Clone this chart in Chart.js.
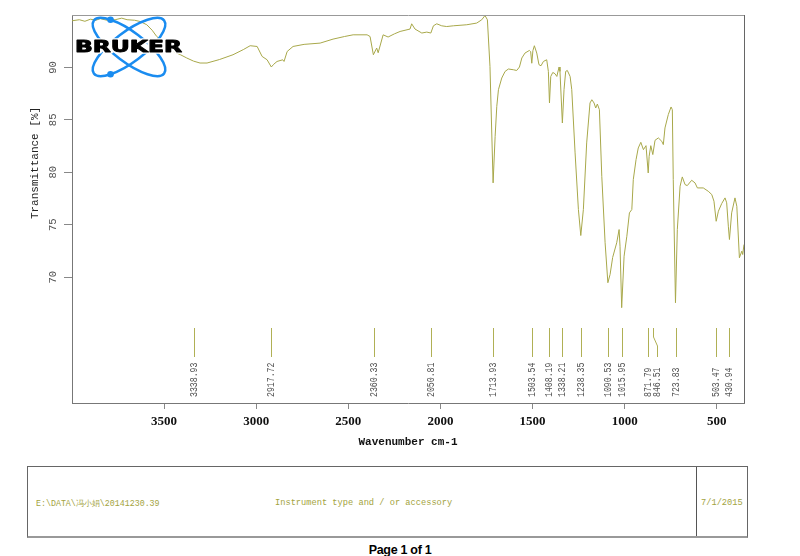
<!DOCTYPE html>
<html>
<head>
<meta charset="utf-8">
<script src="https://cdn.jsdelivr.net/npm/chart.js"></script>
<style>
    body { margin: 0; background: #fff; }
    #page { position: relative; width: 800px; height: 556px; overflow: hidden; }
    #spectrum { position: absolute; left: 0; top: 0; }
    #info_box {
        position: absolute; left: 27px; top: 466px; width: 719px; height: 69px;
        border: 1px solid #666; border-bottom: 2px solid #999;
    }
    #info_box .divider { position: absolute; left: 668px; top: 0; bottom: 0; border-left: 1px solid #555; }
    #info_box span {
        position: absolute; top: 32px; font-family: "Liberation Mono", monospace;
        font-size: 8.7px; line-height: 9px; color: #a3a340; white-space: nowrap;
    }
    #page_no {
        position: absolute; left: 0; width: 800px; top: 543px; text-align: center;
        font-family: "Liberation Sans", Arial, sans-serif; font-weight: bold; font-size: 12.5px;
        letter-spacing: -0.3px; color: #000;
    }
</style>
</head>
<body>
<div id="page">
    <canvas id="spectrum" width="800" height="460"></canvas>
    <div id="info_box">
        <span style="left:8px; font-size:8.3px">E:\DATA\冯小娟\20141230.39</span>
        <span style="left:247px">Instrument type and / or accessory</span>
        <div class="divider"></div>
        <span style="left:673px">7/1/2015</span>
    </div>
    <div id="page_no">Page 1 of 1</div>
</div>
<script>
    // spectrum (cm-1 / %T)
    const wavenumbers = [
        4000, 3960, 3930, 3900, 3870, 3847, 3810, 3766, 3730, 3701, 3660, 3630, 3594, 3565, 3540,
        3485, 3450, 3410, 3377, 3340, 3305, 3267, 3200, 3126, 3070, 3033, 2995, 2968, 2941, 2918,
        2905, 2887, 2856, 2849, 2832, 2800, 2740, 2653, 2583, 2520, 2474, 2398, 2382, 2364, 2346,
        2338, 2311, 2284, 2250, 2219, 2165, 2156, 2138, 2101, 2074, 2052, 2038, 2020, 1993, 1966,
        1930, 1857, 1803, 1776, 1758, 1745, 1731, 1714, 1703, 1694, 1685, 1667, 1649, 1631, 1604,
        1586, 1571, 1558, 1541, 1517, 1510, 1504, 1498, 1490, 1477, 1465, 1454, 1441, 1423, 1414,
        1408, 1401, 1390, 1378, 1368, 1356, 1351, 1338, 1329, 1320, 1311, 1296, 1287, 1269, 1251,
        1238, 1224, 1206, 1188, 1178, 1166, 1157, 1148, 1137, 1124, 1106, 1091, 1079, 1065, 1043,
        1030, 1025, 1016, 1003, 988, 974, 961, 953, 938, 926, 912, 898, 884, 872, 867,
        858, 847, 835, 817, 798, 790, 781, 763, 748, 741, 736, 724, 714, 699, 687,
        672, 660, 636, 618, 605, 573, 546, 527, 515, 503, 491, 473, 455, 446, 437,
        431, 419, 401, 391, 377, 364, 359, 352
    ];
    const transmittance = [
        94.45, 94.55, 94.4, 94.6, 94.5, 94.65, 94.5, 94.55, 94.7, 94.55, 94.5, 94.38, 94.07, 93.55, 92.95,
        92.16, 91.52, 91.2, 90.9, 90.6, 90.42, 90.42, 90.75, 91.21, 91.7, 92.07, 92.0, 91.05, 90.73, 90.04,
        90.3, 90.57, 90.73, 90.57, 91.52, 92.0, 92.2, 92.32, 92.7, 92.95, 93.11, 93.11, 92.95, 91.21, 91.85,
        91.4, 93.11, 92.9, 93.2, 93.43, 93.66, 94.16, 93.66, 93.28, 93.37, 93.28, 93.97, 94.16, 93.97, 93.9,
        93.97, 94.07, 94.23, 94.54, 94.95, 94.54, 90.1, 78.99, 83.43, 86.29, 87.88, 88.99, 89.62, 89.85, 89.78,
        89.71, 90.04, 90.9, 91.37, 91.62, 91.5, 90.4, 91.6, 92.07, 91.37, 90.26, 90.16, 90.57, 90.73, 89.62,
        86.61, 89.14, 89.52, 89.4, 89.14, 90.04, 89.62, 84.7, 87.88, 89.62, 89.71, 89.14, 87.88, 81.85, 76.45,
        73.97, 76.45, 82.8, 86.61, 86.92, 86.61, 86.13, 86.51, 85.97, 79.62, 73.28, 69.47, 70.26, 71.88, 73.28,
        74.54, 72.95, 67.09, 72.0, 73.9, 76.13, 76.45, 79.3, 81.21, 82.32, 82.86, 82.16, 82.54, 79.94, 81.52,
        82.54, 81.69, 83.05, 83.28, 82.95, 82.64, 84.23, 85.5, 86.23, 85.97, 79.3, 67.56, 74.54, 78.67, 79.56,
        78.83, 78.73, 79.24, 78.99, 78.51, 78.51, 78.19, 77.88, 77.24, 75.33, 76.29, 77.02, 77.56, 77.09, 74.86,
        73.59, 76.13, 77.56, 76.76, 71.85, 72.48, 72.16, 73.11
    ];
    const peaks = [3338.93, 2917.72, 2360.33, 2050.81, 1713.93, 1503.54, 1408.19, 1338.21,
                   1238.35, 1090.53, 1015.95, 871.79, 846.51, 723.83, 503.47, 430.94];
    const xTicks = [3500, 3000, 2500, 2000, 1500, 1000, 500];
    const yTicks = [70, 75, 80, 85, 90];

    const decorations = {
        id: 'decorations',
        afterDraw(chart) {
            const { ctx, chartArea: a, scales: { x, y } } = chart;
            ctx.save();

            // top and right frame
            ctx.lineWidth = 1;
            ctx.strokeStyle = '#999';
            ctx.beginPath(); ctx.moveTo(a.left, a.top + 0.5); ctx.lineTo(a.right + 1, a.top + 0.5); ctx.stroke();
            ctx.strokeStyle = '#666';
            ctx.beginPath(); ctx.moveTo(a.right + 0.5, a.top); ctx.lineTo(a.right + 0.5, a.bottom); ctx.stroke();

            // y tick labels, rotated
            ctx.fillStyle = '#555';
            ctx.font = '10.5px "Liberation Mono"';
            ctx.textAlign = 'center';
            ctx.textBaseline = 'middle';
            y.ticks.forEach(t => {
                ctx.save();
                ctx.translate(53, y.getPixelForValue(t.value));
                ctx.rotate(-Math.PI / 2);
                ctx.fillText(String(t.value), 0, 0);
                ctx.restore();
            });

            // y title
            ctx.save();
            ctx.fillStyle = '#222';
            ctx.font = '11px "Liberation Mono"';
            ctx.translate(35, 163);
            ctx.rotate(-Math.PI / 2);
            ctx.fillText('Transmittance [%]', 0, 0);
            ctx.restore();

            // peak markers and labels
            let prev = -Infinity;
            ctx.font = '10px "Liberation Mono"';
            ctx.textAlign = 'left';
            peaks.forEach(p => {
                const px = Math.round(x.getPixelForValue(p)) + 0.5;
                const lx = Math.max(px, prev + 9);
                prev = lx;
                ctx.strokeStyle = '#b0b055';
                ctx.beginPath();
                ctx.moveTo(px, 328);
                if (lx !== px) {
                    ctx.lineTo(px, 337);
                    ctx.lineTo(lx, 346);
                }
                ctx.lineTo(lx, 357);
                ctx.stroke();
                ctx.save();
                ctx.fillStyle = '#555';
                ctx.translate(lx, 397);
                ctx.rotate(-Math.PI / 2);
                ctx.scale(0.82, 1);
                ctx.fillText(p.toFixed(2), 0, 0);
                ctx.restore();
            });

            // logo
            const cx = 129, cy = 47, ra = 44, rb = 15, th = 37 * Math.PI / 180;
            ctx.strokeStyle = '#1a8cf0';
            ctx.fillStyle = '#1a8cf0';
            ctx.lineWidth = 2.5;
            [th, -th].forEach((rot, i) => {
                ctx.beginPath();
                ctx.ellipse(cx, cy, ra, rb, rot, 0, 2 * Math.PI);
                ctx.stroke();
                const t = i === 0 ? 1.25 * Math.PI : 0.75 * Math.PI;
                const ex = ra * Math.cos(t), ey = rb * Math.sin(t);
                ctx.beginPath();
                ctx.arc(cx + ex * Math.cos(rot) - ey * Math.sin(rot),
                        cy + ex * Math.sin(rot) + ey * Math.cos(rot), 3.3, 0, 2 * Math.PI);
                ctx.fill();
            });
            ctx.font = 'bold 15px "DejaVu Sans"';
            ctx.textBaseline = 'alphabetic';
            const w = ctx.measureText('BRUKER').width;
            ctx.translate(75, 52);
            ctx.scale(107 / w, 1);
            ctx.lineJoin = 'round';
            ctx.lineWidth = 3.5;
            ctx.strokeStyle = '#fff';
            ctx.strokeText('BRUKER', 0, 0);
            ctx.fillStyle = '#000';
            ctx.fillText('BRUKER', 0, 0);
            ctx.lineWidth = 0.9;
            ctx.strokeStyle = '#000';
            ctx.strokeText('BRUKER', 0, 0);

            ctx.restore();
        }
    };

    new Chart(document.getElementById('spectrum'), {
        type: 'line',
        data: {
            datasets: [{
                data: wavenumbers.map((w, i) => ({ x: w, y: transmittance[i] })),
                borderColor: '#a8a84a',
                borderWidth: 1,
                pointRadius: 0,
                tension: 0,
                fill: false
            }]
        },
        options: {
            responsive: false,
            animation: false,
            devicePixelRatio: 1,
            layout: { padding: { left: 0, right: 56, top: 15, bottom: 0 } },
            plugins: { legend: { display: false }, tooltip: { enabled: false } },
            scales: {
                x: {
                    type: 'linear',
                    reverse: true,
                    min: 352,
                    max: 4000,
                    afterBuildTicks: s => { s.ticks = xTicks.map(v => ({ value: v })); },
                    afterFit: s => { s.height = 57; },
                    ticks: {
                        autoSkip: false,
                        maxRotation: 0,
                        padding: 5,
                        color: '#111',
                        font: { family: '"Liberation Serif"', size: 13, weight: 'bold' },
                        callback: v => String(v)
                    },
                    grid: { drawOnChartArea: false, tickLength: 6, color: '#888' },
                    border: { color: '#777' },
                    title: {
                        display: true,
                        text: 'Wavenumber cm-1',
                        color: '#111',
                        font: { family: '"Liberation Mono"', size: 11, weight: 'bold' },
                        padding: { top: 0, bottom: 11 }
                    }
                },
                y: {
                    min: 58,
                    max: 95,
                    afterBuildTicks: s => { s.ticks = yTicks.map(v => ({ value: v })); },
                    afterFit: s => { s.width = 72; },
                    ticks: { display: false },
                    grid: { drawOnChartArea: false, tickLength: 8, color: '#888' },
                    border: { color: '#777' }
                }
            }
        },
        plugins: [decorations]
    });
</script>
</body>
</html>
